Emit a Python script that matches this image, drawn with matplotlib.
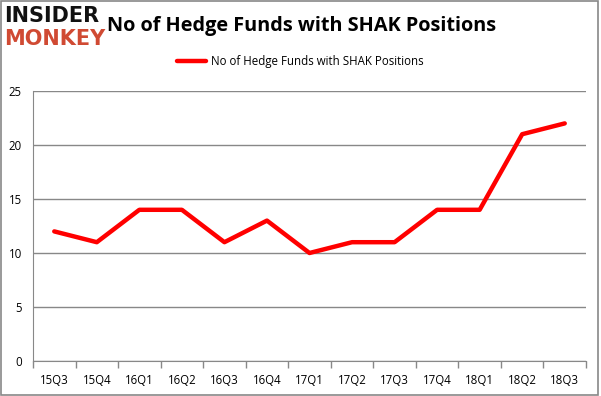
import matplotlib
matplotlib.use("Agg")
import matplotlib.pyplot as plt
from matplotlib.patches import Rectangle

categories = ["15Q3", "15Q4", "16Q1", "16Q2", "16Q3", "16Q4", "17Q1",
              "17Q2", "17Q3", "17Q4", "18Q1", "18Q2", "18Q3"]
values = [12, 11, 14, 14, 11, 13, 10, 11, 11, 14, 14, 21, 22]
yticks = [0, 5, 10, 15, 20, 25]
title = "No of Hedge Funds with SHAK Positions"

plt.rcParams['font.family'] = ['Open Sans', 'DejaVu Sans']

fig = plt.figure(figsize=(6.01, 3.96), dpi=100)
W, H = 601, 396
ax = fig.add_axes([33 / W, 1 - 361 / H, (586 - 33) / W, (361 - 91) / H])

x = list(range(len(categories)))
ax.plot(x, values, color="#ff0000", linewidth=3.2, solid_capstyle="round",
        label=title)
ax.set_xlim(-0.5, len(categories) - 0.5)
ax.set_ylim(0, 25)
ax.set_yticks(yticks)
ax.set_yticklabels([str(v) for v in yticks], fontsize=8.3)
ax.set_xticks(x)
ax.set_xticklabels(categories, fontsize=8.3)
ax.set_xticks([i - 0.5 for i in range(len(categories) + 1)], minor=True)
ax.tick_params(axis="x", which="major", length=0, pad=9)
ax.tick_params(axis="x", which="minor", length=5, color="#888888", width=1)
ax.tick_params(axis="y", length=0, pad=8)
ax.grid(axis="y", color="#888888", linewidth=1)
ax.set_axisbelow(True)
for s in ["top", "right"]:
    ax.spines[s].set_visible(False)
ax.spines["left"].set_color("#888888")
ax.spines["bottom"].set_color("#888888")

fig.legend(handles=ax.get_lines(), loc="center", bbox_to_anchor=(0.5, 1 - 62 / H),
           frameon=False, fontsize=8.3, handlelength=2.5, handletextpad=0.4)

fig.text(302 / W, 1 - 26 / H, title, ha="center", va="center",
         fontsize=14.3, fontweight="bold")
fig.text(4 / W, 1 - 16 / H, "INSIDER", ha="left", va="center",
         fontsize=15, fontweight="heavy", color="#111111",
         family="DejaVu Sans")
fig.text(4 / W, 1 - 39 / H, "MONKEY", ha="left", va="center",
         fontsize=15, fontweight="heavy", color="#d04a33",
         family="DejaVu Sans")

fig.patches.append(Rectangle((1 / W, 1 / H), 597 / W, 394 / H, transform=fig.transFigure,
                             fill=False, edgecolor="#888888", linewidth=1.2))

fig.savefig("out.png", dpi=100)
